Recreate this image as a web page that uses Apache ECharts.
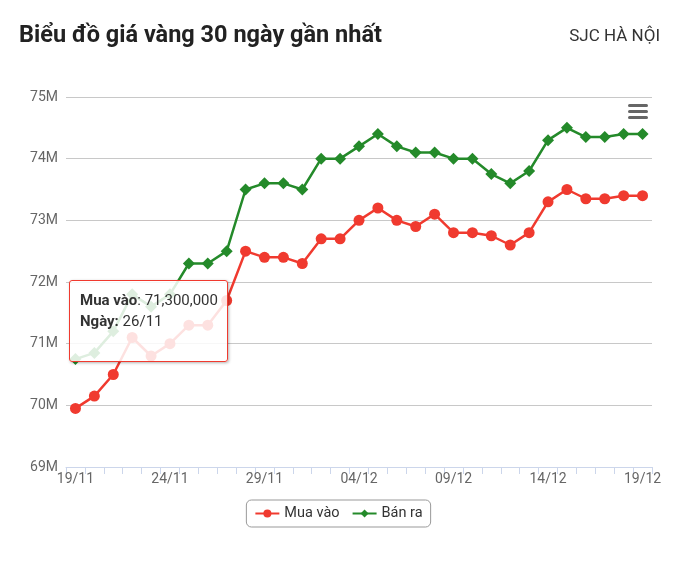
<!DOCTYPE html>
<html><head><meta charset="utf-8">
<script src="https://cdn.jsdelivr.net/npm/echarts@6/dist/echarts.min.js"></script>
<style>html,body{margin:0;padding:0;background:#fff}#c{width:677px;height:567px}</style>
</head><body><div id="c"></div>
<script>
const categories = ['19/11','20/11','21/11','22/11','23/11','24/11','25/11','26/11','27/11','28/11','29/11','30/11','01/12','02/12','03/12','04/12','05/12','06/12','07/12','08/12','09/12','10/12','11/12','12/12','13/12','14/12','15/12','16/12','17/12','18/12','19/12'];
const muaVao = [69950000,70150000,70500000,71100000,70800000,71000000,71300000,71300000,71700000,72500000,72400000,72400000,72300000,72700000,72700000,73000000,73200000,73000000,72900000,73100000,72800000,72800000,72750000,72600000,72800000,73300000,73500000,73350000,73350000,73400000,73400000];
const banRa = [70750000,70850000,71200000,71800000,71600000,71800000,72300000,72300000,72500000,73500000,73600000,73600000,73500000,74000000,74000000,74200000,74400000,74200000,74100000,74100000,74000000,74000000,73750000,73600000,73800000,74300000,74500000,74350000,74350000,74400000,74400000];
const yTicks = {min:69000000, max:75000000, step:1000000};

const chart = echarts.init(document.getElementById('c'), null, {renderer:'canvas'});
const fmt = n => Math.round(n).toString().replace(/\B(?=(\d{3})+(?!\d))/g, ',');
chart.setOption({
  animation:false,
  textStyle:{fontFamily:'Roboto'},
  title:[
    {text:'Biểu đồ giá vàng 30 ngày gần nhất', left:14, top:19, textStyle:{fontFamily:'Roboto', fontSize:23.5, fontWeight:'bold', color:'#222'}},
    {text:'SJC HÀ NỘI', right:12, top:23, textStyle:{fontFamily:'Roboto', fontSize:17, fontWeight:'normal', color:'#333'}}
  ],
  grid:{left:66, right:25, top:97, bottom:100},
  tooltip:{
    trigger:'item', triggerOn:'none', alwaysShowContent:true,
    position:[69,280],
    backgroundColor:'rgba(255,255,255,0.85)',
    borderColor:'#f03a2f', borderWidth:1, borderRadius:3, padding:[9,10,10,10],
    extraCssText:'width:159px;height:82px;box-sizing:border-box;box-shadow:1px 1px 3px rgba(0,0,0,0.3);',
    textStyle:{fontFamily:'Roboto', fontSize:15, color:'#333'},
    formatter: p => '<div style="line-height:21px;font-family:Roboto;font-size:15px;color:#333;white-space:nowrap"><b>' + p.seriesName + '</b>: ' + fmt(p.value) + '<br><b>Ngày:</b> ' + p.name + '</div>'
  },
  legend:{
    left:'center', top:500, padding:[6,8,6,8],
    borderColor:'#999', borderWidth:1, borderRadius:5,
    itemWidth:24, itemHeight:10, itemGap:12,
    textStyle:{fontFamily:'Roboto', fontSize:14.5, color:'#333'}
  },
  xAxis:{
    type:'category', data:categories, boundaryGap:true,
    axisLine:{lineStyle:{color:'#ccd6eb'}},
    axisTick:{show:true, interval:0, length:7, lineStyle:{color:'#ccd6eb'}},
    axisLabel:{interval:4, color:'#666', fontSize:14, margin:5}
  },
  yAxis:{
    type:'value', min:yTicks.min, max:yTicks.max, interval:yTicks.step,
    axisLine:{show:false}, axisTick:{show:false},
    splitLine:{lineStyle:{color:'#c8c8c8'}},
    axisLabel:{color:'#666', fontSize:14, margin:8, formatter:v => (v/1000000) + 'M'}
  },
  graphic:[
    {type:'group', left:628, top:104, children:[
      {type:'rect', shape:{x:0,y:0,width:20,height:3,r:1.5}, style:{fill:'#666'}},
      {type:'rect', shape:{x:0,y:6,width:20,height:3,r:1.5}, style:{fill:'#666'}},
      {type:'rect', shape:{x:0,y:12,width:20,height:3,r:1.5}, style:{fill:'#666'}}
    ]}
  ],
  series:[
    {name:'Mua vào', type:'line', data:muaVao, color:'#f03a2f', symbol:'circle', symbolSize:11, showAllSymbol:true,
     lineStyle:{width:2.5}, itemStyle:{color:'#f03a2f'}},
    {name:'Bán ra', type:'line', data:banRa, color:'#248a2a', symbol:'diamond', symbolSize:12, showAllSymbol:true,
     lineStyle:{width:2.5}, itemStyle:{color:'#248a2a'}}
  ]
});
chart.dispatchAction({type:'showTip', seriesIndex:0, dataIndex:7});
</script></body></html>
